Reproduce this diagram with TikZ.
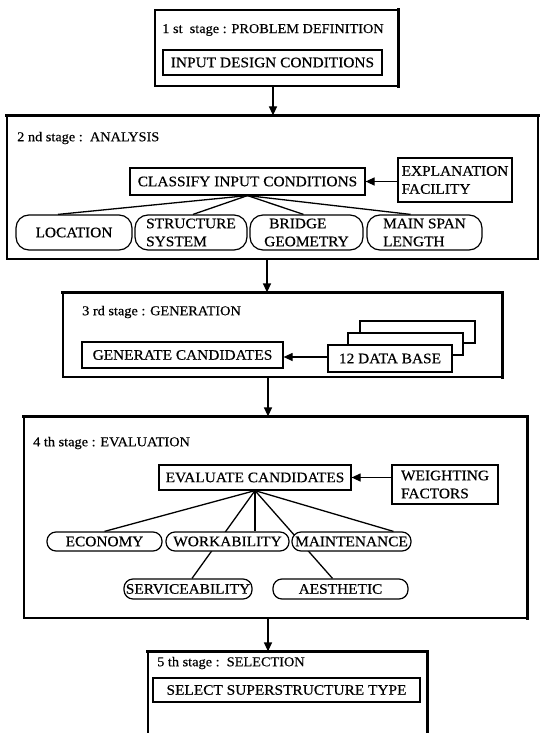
\documentclass[tikz,border=0pt]{standalone}
\usepackage{fontspec}
\setmainfont{Liberation Serif}[FakeStretch=1.06,FakeBold=0.4]
\usetikzlibrary{arrows.meta,backgrounds}
\begin{document}
\begin{tikzpicture}[x=1pt,y=-1pt,
  every node/.style={font=\fontsize{14.5}{18}\selectfont},
  stagebox/.style={draw, line width=1.2pt, inner sep=0pt},
  rbox/.style={draw, line width=1.2pt, fill=white, inner sep=0pt, align=left},
  pill/.style={draw, line width=1.2pt, fill=white, inner sep=0pt, rounded corners=#1, align=left},
  pill/.default=9pt,
  heading/.style={inner sep=0pt, anchor=west, font=\fontsize{13.5}{16}\selectfont},
  arr/.style={line width=1.2pt, -{Triangle[length=9pt,width=8pt]}},
  link/.style={line width=1.3pt},
  heavy/.style={line width=3.2pt, line cap=rect},
]
\useasboundingbox (0,0) rectangle (542,733);
\clip (0,0) rectangle (542,733);

% ---------- stage frames ----------
\node[stagebox, minimum width=243pt, minimum height=76pt]  (s1) at (276.5,48) {};
\node[stagebox, minimum width=531pt, minimum height=143pt] (s2) at (272.5,187.5) {};
\node[stagebox, minimum width=439pt, minimum height=84pt]  (s3) at (282.5,335) {};
\node[stagebox, minimum width=503pt, minimum height=201pt] (s4) at (275.5,517.5) {};
\node[stagebox, minimum width=279pt, minimum height=108pt] (s5) at (287.5,706) {};

\draw[heavy] (s1.north east) -- (s1.south east);
\draw[heavy] (s2.north west) -- (s2.north east);
\draw[heavy] (s3.north west) -- (s3.north east) -- (s3.south east);
\draw[heavy] (s4.north west) -- (s4.north east) -- (s4.south east);
\draw[heavy] (s5.north west) -- (s5.north east) -- (s5.south east);

% ---------- headings ----------
\node[heading, anchor=center] (t1) at (273,30) {1 st\ \ stage : PROBLEM DEFINITION};
\node[heading] (t2) at (17,138) {2 nd stage :\ \ ANALYSIS};
\node[heading] (t3) at (82,312) {3 rd stage : GENERATION};
\node[heading] (t4) at (33,443) {4 th stage : EVALUATION};
\node[heading] (t5) at (157,663) {5 th stage :\ \ SELECTION};

% ---------- stage 1 ----------
\node[rbox, minimum width=219pt, minimum height=25pt] (idc) at (272.5,62.5) {INPUT DESIGN CONDITIONS};

% ---------- stage 2 ----------
\node[rbox, minimum width=235pt, minimum height=27pt] (cls) at (247.5,181.5) {CLASSIFY INPUT CONDITIONS};
\node[rbox, minimum width=114pt, minimum height=44pt] (exp) at (455,180) {EXPLANATION\\FACILITY};
\node[pill=13pt, minimum width=116pt, minimum height=35pt] (loc) at (74,232.5) {LOCATION};
\node[pill=13pt, minimum width=112pt, minimum height=35pt] (str) at (191,232.5) {STRUCTURE\\SYSTEM};
\node[pill=13pt, minimum width=113pt, minimum height=35pt] (bri) at (306.5,232.5) {\hspace*{5pt}BRIDGE\\GEOMETRY};
\node[pill=13pt, minimum width=115pt, minimum height=35pt] (msp) at (424.5,232.5) {MAIN SPAN\\LENGTH};

% ---------- stage 3 ----------
\node[rbox, minimum width=201pt, minimum height=26pt] (gen) at (182.5,355) {GENERATE CANDIDATES};
\node[rbox, minimum width=115pt, minimum height=22pt] (db3) at (417.5,332) {};
\node[rbox, minimum width=115pt, minimum height=22pt] (db2) at (405.5,344) {};
\node[rbox, minimum width=124pt, minimum height=27pt] (db1) at (390,358.5) {12 DATA BASE};

% ---------- stage 4 ----------
\node[rbox, minimum width=192pt, minimum height=25pt] (evc) at (255,477.5) {EVALUATE CANDIDATES};
\node[rbox, minimum width=106pt, minimum height=39pt] (wfa) at (445,484.5) {WEIGHTING\\FACTORS};
\node[pill, minimum width=115pt, minimum height=19pt] (eco) at (104.5,541.5) {ECONOMY};
\node[pill, minimum width=123pt, minimum height=19pt] (wor) at (227.5,541.5) {WORKABILITY};
\node[pill, minimum width=119pt, minimum height=19pt] (mai) at (351.5,541.5) {MAINTENANCE};
\node[pill, minimum width=128pt, minimum height=20pt] (ser) at (188,589) {SERVICEABILITY};
\node[pill, minimum width=135pt, minimum height=20pt] (aes) at (340.5,589) {AESTHETIC};

% ---------- stage 5 ----------
\node[rbox, minimum width=267pt, minimum height=24pt] (sel) at (286.5,690) {SELECT SUPERSTRUCTURE TYPE};

% ---------- connectors ----------
\coordinate (ax1) at (273,0);
\coordinate (ax2) at (267,0);
\coordinate (ax3) at (268,0);
\coordinate (ax4) at (268,0);
\draw[arr] (s1.south -| ax1) -- (s2.north -| ax1);
\draw[arr] (s2.south -| ax2) -- (s3.north -| ax2);
\draw[arr] (s3.south -| ax3) -- (s4.north -| ax3);
\draw[arr] (s4.south -| ax4) -- (s5.north -| ax4);

\draw[arr] (exp.west |- cls.east) -- (cls.east);
\draw[arr] (db1.west |- 0,357) -- (gen.east |- 0,357);
\draw[arr] (wfa.west |- evc.east) -- (evc.east);

\begin{pgfonlayer}{background}
\draw[link] (cls.south) -- ([xshift=-16pt]loc.north);
\draw[link] (cls.south) -- ([xshift=2pt]str.north);
\draw[link] (cls.south) -- ([xshift=-3pt]bri.north);
\draw[link] (cls.south) -- ([xshift=-14pt]msp.north);
\draw[link] (evc.south) -- (eco.north);
\draw[link] (evc.south) -- (evc.south |- wor.north);
\draw[link] (evc.south) -- ([xshift=42pt]mai.north);
\draw[link] (evc.south) -- ([xshift=4pt]ser.north);
\draw[link] (evc.south) -- ([xshift=-8pt]aes.north);
\end{pgfonlayer}
\end{tikzpicture}
\end{document}
